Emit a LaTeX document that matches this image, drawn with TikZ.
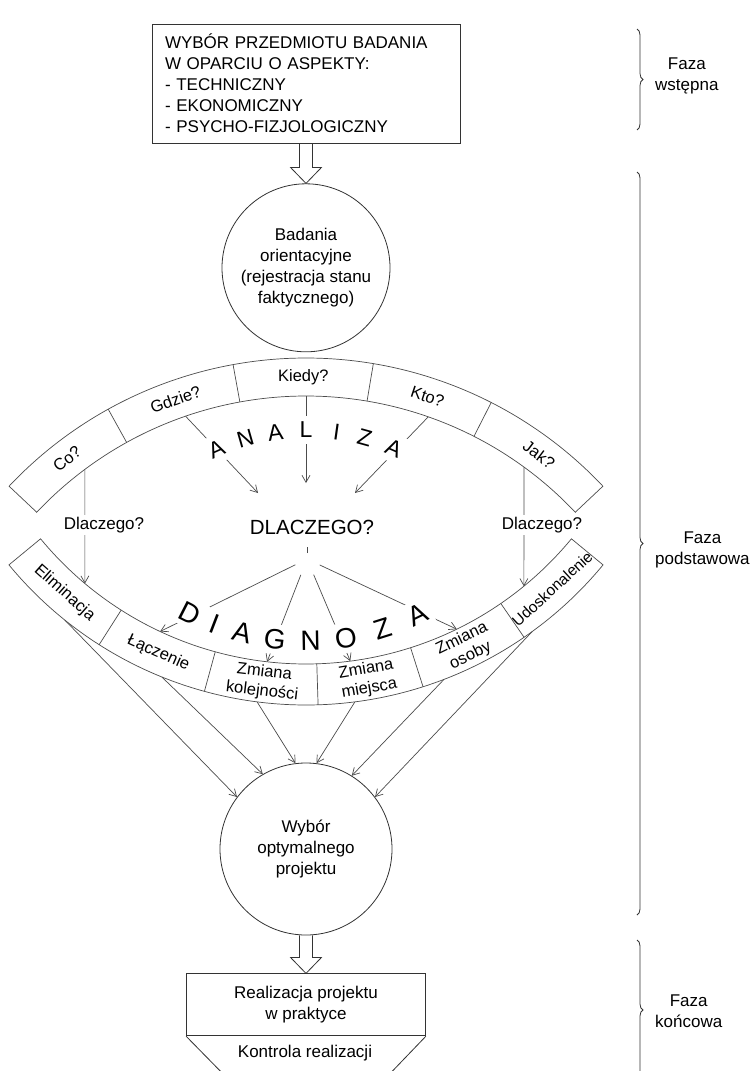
\documentclass[tikz,border=0pt]{standalone}
\usepackage{fontspec}
\setmainfont{Liberation Sans}
\usetikzlibrary{positioning,calc,arrows.meta,decorations.pathreplacing}

\tikzset{
  box/.style={draw=black!80, line width=0.8pt, font=\fontsize{17}{21}\selectfont, align=center},
  circ/.style={circle, draw=black!80, line width=0.8pt, font=\fontsize{17}{21}\selectfont, align=center, inner sep=0pt},
  line/.style={draw=black!70, line width=0.7pt},
  arr/.style={line, -{Straight Barb[length=7pt,width=8pt]}},
  hollow/.style={draw=black!80, line width=0.8pt},
  seg/.style={font=\fontsize{16.5}{19.5}\selectfont, align=center, inner sep=0pt},
  why/.style={font=\fontsize{17}{21}\selectfont, fill=white, inner sep=2pt},
  letA/.style={font=\fontsize{23}{23}\selectfont, fill=white, inner sep=6pt},
  letD/.style={font=\fontsize{28}{28}\selectfont, fill=white, inner sep=5pt},
  phase/.style={font=\fontsize{17}{21}\selectfont, align=center, anchor=west, inner sep=0pt},
  brace/.style={draw=black!80, line width=0.8pt, decorate, decoration={brace, amplitude=6pt}},
}

\begin{document}
\begin{tikzpicture}[x=1pt, y=1pt]
  \useasboundingbox (0,0) rectangle (755,-1071);
  \clip (0,0) rectangle (755,-1071);
  \fill[white] (0,0) rectangle (755,-1071);

  % main axis
  \node[box, minimum width=308, minimum height=119, text width=282, inner xsep=13, align=left] (przedmiot) at (306,-83.5) {WYBÓR PRZEDMIOTU BADANIA\\W OPARCIU O ASPEKTY:\\- TECHNICZNY\\- EKONOMICZNY\\- PSYCHO-FIZJOLOGICZNY};
  \node[circ, minimum size=168, below=40pt of przedmiot] (badania) {Badania\\orientacyjne\\(rejestracja stanu\\faktycznego)};
  \node[circ, minimum size=172] (wybor) at (306,-849) {Wybór\\optymalnego\\projektu};
  \node[box, minimum width=239, minimum height=62, below=38pt of wybor] (realizacja) {Realizacja projektu\\w praktyce};

  % hollow arrows
  \draw[hollow] ($(przedmiot.south)+(-6.5,0)$) -- ($(badania.north)+(-6.5,16)$) -- ($(badania.north)+(-15.5,16)$) -- (badania.north) -- ($(badania.north)+(15.5,16)$) -- ($(badania.north)+(6.5,16)$) -- ($(przedmiot.south)+(6.5,0)$);
  \draw[hollow] ($(wybor.south)+(-6.5,0)$) -- ($(realizacja.north)+(-6.5,16)$) -- ($(realizacja.north)+(-15.5,16)$) -- (realizacja.north) -- ($(realizacja.north)+(15.5,16)$) -- ($(realizacja.north)+(6.5,16)$) -- ($(wybor.south)+(6.5,0)$);

  % kontrola realizacji
  \coordinate (kl) at (232,-1083);
  \coordinate (kr) at (381,-1083);
  \draw[hollow] (realizacja.south west) -- (kl) -- (kr) -- (realizacja.south east);
  \node[box, draw=none] (kontrola) at (305,-1053) {Kontrola realizacji};

  % analiza band
  \begin{scope}[shift={(306,-766)}]
    \draw[line] (136.7:408pt) arc[start angle=136.7, end angle=43.3, radius=408pt] -- (43.3:370pt) arc[start angle=43.3, end angle=136.7, radius=370pt] -- cycle;
    \draw[line] (119:370pt) -- (119:408pt);
    \draw[line] (100.3:370pt) -- (100.3:408pt);
    \draw[line] (80.5:370pt) -- (80.5:408pt);
    \draw[line] (63:370pt) -- (63:408pt);
    \node[seg, rotate=37.9] (co) at (127.9:389pt) {Co?};
    \node[seg, rotate=19.6] (gdzie) at (109.6:389pt) {Gdzie?};
    \node[seg, rotate=0.4] (kiedy) at (90.4:389pt) {Kiedy?};
    \node[seg, rotate=-18.2] (kto) at (71.8:389pt) {Kto?};
    \node[seg, rotate=-36.8] (jak) at (53.2:389pt) {Jak?};
    \coordinate (qco) at (126.7:370pt);
    \coordinate (qgdzie) at (109:370pt);
    \coordinate (qkiedy) at (90:370pt);
    \coordinate (qkto) at (70.7:370pt);
    \coordinate (qjak) at (53.9:370pt);
  \end{scope}

  % diagnoza band
  \begin{scope}[shift={(306,-320)}]
    \draw[line] (219.5:344pt) arc[start angle=219.5, end angle=320.5, radius=344pt] -- (320.5:385pt) arc[start angle=320.5, end angle=219.5, radius=385pt] -- cycle;
    \draw[line] (237.5:344pt) -- (237.5:385pt);
    \draw[line] (254.7:344pt) -- (254.7:385pt);
    \draw[line] (271.8:344pt) -- (271.8:385pt);
    \draw[line] (287.7:344pt) -- (287.7:385pt);
    \draw[line] (304.5:344pt) -- (304.5:385pt);
    \node[seg, rotate=-41.5] (elim) at (228.5:364.5pt) {Eliminacja};
    \node[seg, rotate=-23.9] (lacz) at (246.1:364.5pt) {Łączenie};
    \node[seg, rotate=-6.75] (kolej) at (263.25:364.5pt) {Zmiana\\kolejności};
    \node[seg, rotate=9.75] (miejsce) at (279.75:364.5pt) {Zmiana\\miejsca};
    \node[seg, rotate=26.1] (osoba) at (296.1:364.5pt) {Zmiana\\osoby};
    \node[seg, font=\fontsize{15.5}{18}\selectfont, rotate=42.5] (udosk) at (312.5:364.5pt) {Udoskonalenie};
    \coordinate (delim) at (230:344pt);
    \coordinate (dlacz) at (244.9:344pt);
    \coordinate (dkolej) at (263.5:344pt);
    \coordinate (dmiejsce) at (277.4:344pt);
    \coordinate (dosoba) at (296:344pt);
    \coordinate (dudosk) at (309.3:344pt);
    \coordinate (o1) at (231.2:385pt);
    \coordinate (o2) at (248:385pt);
    \coordinate (o3) at (262.7:385pt);
    \coordinate (o4) at (277.3:385pt);
    \coordinate (o5) at (291:385pt);
    \coordinate (o6) at (306:385pt);
  \end{scope}

  % questions into DLACZEGO?
  \node[font=\fontsize{20.5}{24}\selectfont, inner sep=0pt] (dlaczego) at (312,-527) {DLACZEGO?};
  \coordinate (ta1) at (258,-493);
  \coordinate (ta2) at (306,-483);
  \coordinate (ta3) at (355,-493);
  \coordinate (fan) at (307,-559);
  \draw[arr] (qgdzie) -- (ta1);
  \draw[arr] (qkiedy) -- (ta2);
  \draw[arr] (qkto) -- (ta3);
  \draw[line, shorten <=6pt] (fan) -- ++(0,12);
  \draw[arr, shorten <=13pt] (fan) -- (dlacz);
  \draw[arr, shorten <=17pt] (fan) -- (dkolej);
  \draw[arr, shorten <=17pt] (fan) -- (dmiejsce);
  \draw[arr, shorten <=14pt] (fan) -- (dosoba);
  \draw[arr] (qco) -- (delim);
  \draw[arr] (qjak) -- (dudosk);
  \node[why] (why1) at (104,-525) {Dlaczego?};
  \node[why] (why2) at (542,-525) {Dlaczego?};

  % variants into the choice
  \draw[arr] (o1) -- (wybor.143);
  \draw[arr] (o2) -- (wybor.120);
  \draw[arr] (o3) -- (wybor.97);
  \draw[arr] (o4) -- (wybor.83);
  \draw[arr] (o5) -- (wybor.58);
  \draw[arr] (o6) -- (wybor.37);

  % ANALIZA lettering
  \begin{scope}[shift={(306,-650)}]
    \node[letA, rotate=24] (a1) at (114:220pt) {A};
    \node[letA, rotate=16] (a2) at (106:220pt) {N};
    \node[letA, rotate=8] (a3) at (98:220pt) {A};
    \node[letA, rotate=0] (a4) at (90:220pt) {L};
    \node[letA, rotate=-8] (a5) at (82:220pt) {I};
    \node[letA, rotate=-15.5] (a6) at (74.5:220pt) {Z};
    \node[letA, rotate=-23.5] (a7) at (66.5:220pt) {A};
  \end{scope}

  % DIAGNOZA lettering
  \begin{scope}[shift={(306,-386)}]
    \node[letD, rotate=-27] (d1) at (243:255pt) {D};
    \node[letD, rotate=-21] (d2) at (249:255pt) {I};
    \node[letD, rotate=-14.5] (d3) at (255.5:255pt) {A};
    \node[letD, rotate=-7] (d4) at (263:255pt) {G};
    \node[letD, rotate=1] (d5) at (271:255pt) {N};
    \node[letD, rotate=9] (d6) at (279:255pt) {O};
    \node[letD, rotate=17.5] (d7) at (287.5:255pt) {Z};
    \node[letD, rotate=26] (d8) at (296:255pt) {A};
  \end{scope}

  % phases
  \draw[brace] (637,-29) -- (637,-130);
  \draw[brace] (637,-172) -- (637,-915);
  \draw[brace] (637,-940) -- (637,-1080);
  \node[phase] (wstepna) at (655,-76) {Faza\\wstępna};
  \node[phase] (podstawowa) at (655,-550) {Faza\\podstawowa};
  \node[phase] (koncowa) at (655,-1011) {Faza\\końcowa};
\end{tikzpicture}
\end{document}
